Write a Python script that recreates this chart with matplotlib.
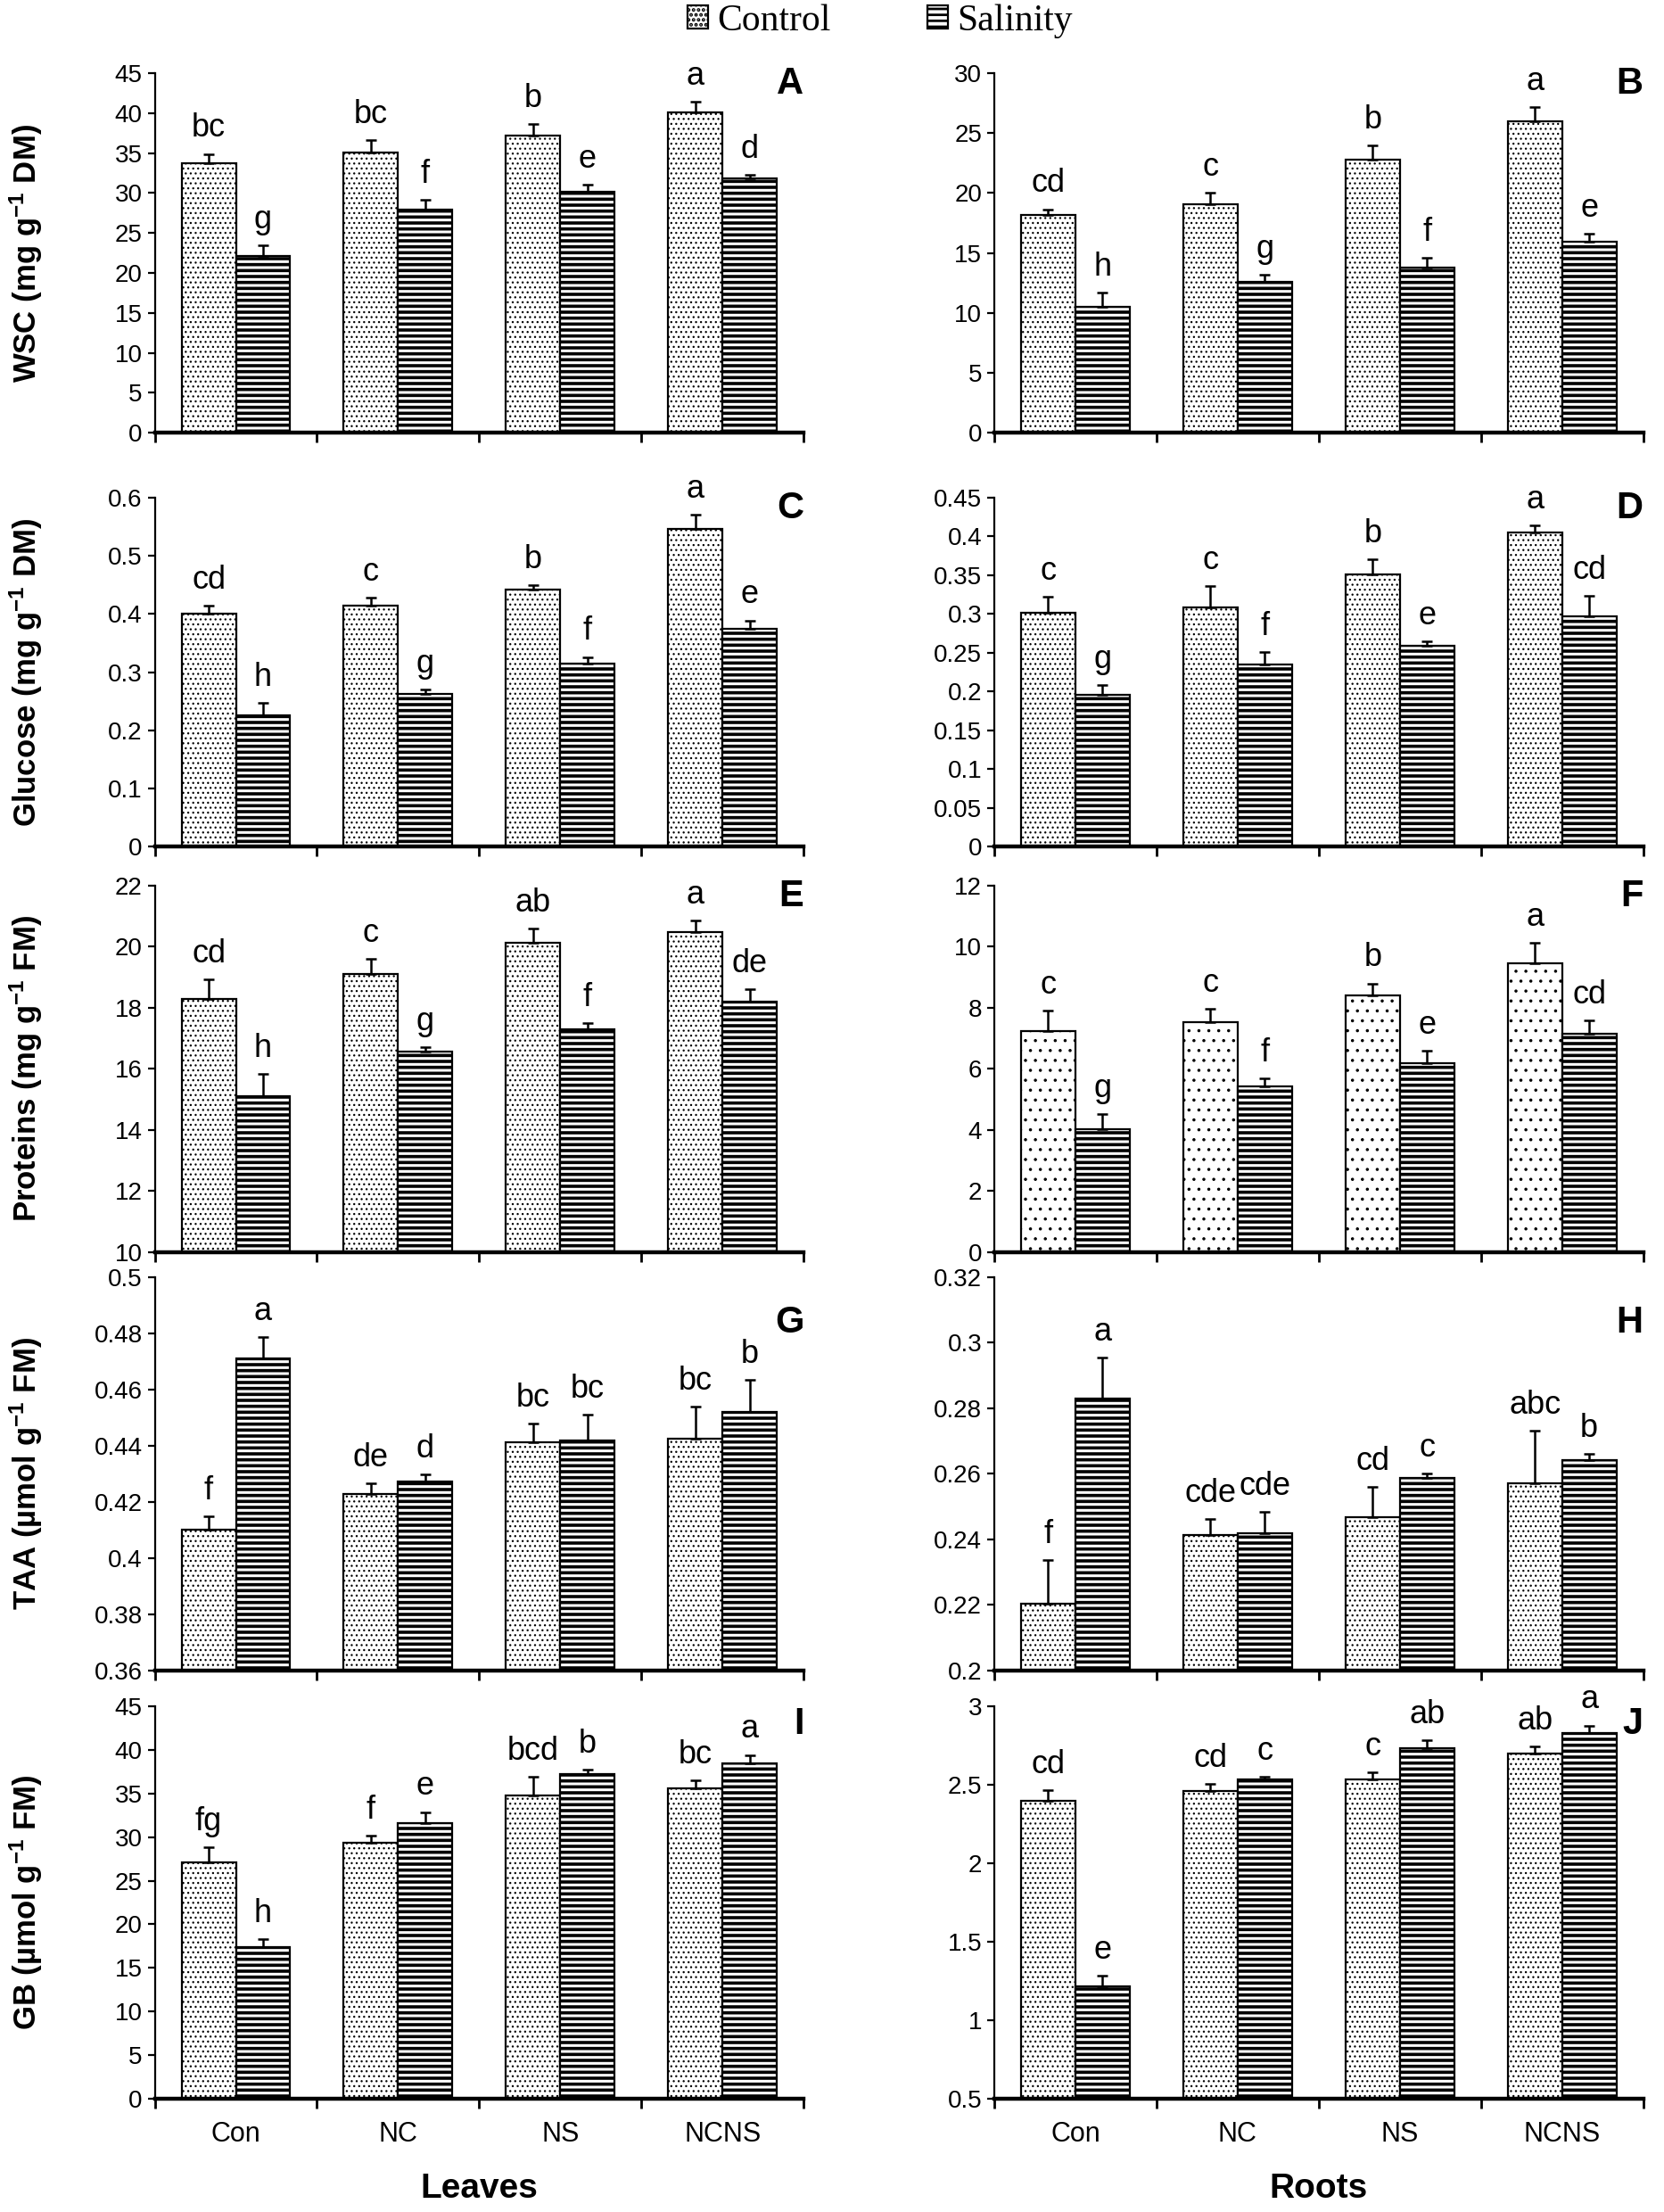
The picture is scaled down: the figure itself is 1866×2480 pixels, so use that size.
import matplotlib
matplotlib.use("Agg")
import matplotlib.pyplot as plt
from matplotlib.ticker import FuncFormatter, MultipleLocator

plt.rcParams["font.family"] = ["Liberation Sans", "DejaVu Sans"]
plt.rcParams["mathtext.default"] = "regular"

NARROW = ["Liberation Sans Narrow", "Liberation Sans", "DejaVu Sans"]

TREATMENTS = ["Con", "NC", "NS", "NCNS"]
SERIES = ["Control", "Salinity"]

# A: WSC, leaves
wsc_leaf_ctrl = [33.7, 35.1, 37.2, 40.1]
wsc_leaf_ctrl_se = [1.2, 1.5, 1.4, 1.3]
wsc_leaf_sal = [22.1, 27.9, 30.2, 31.8]
wsc_leaf_sal_se = [1.4, 1.25, 0.8, 0.5]
wsc_leaf_letters = ["bc", "g", "bc", "f", "b", "e", "a", "d"]

# B: WSC, roots
wsc_root_ctrl = [18.15, 19.1, 22.8, 25.95]
wsc_root_ctrl_se = [0.5, 0.9, 1.2, 1.2]
wsc_root_sal = [10.5, 12.55, 13.8, 15.95]
wsc_root_sal_se = [1.2, 0.65, 0.8, 0.65]
wsc_root_letters = ["cd", "h", "c", "g", "b", "f", "a", "e"]

# C: glucose, leaves
glc_leaf_ctrl = [0.400, 0.414, 0.442, 0.546]
glc_leaf_ctrl_se = [0.014, 0.014, 0.007, 0.025]
glc_leaf_sal = [0.225, 0.262, 0.315, 0.375]
glc_leaf_sal_se = [0.022, 0.008, 0.011, 0.014]
glc_leaf_letters = ["cd", "h", "c", "g", "b", "f", "a", "e"]

# D: glucose, roots
glc_root_ctrl = [0.301, 0.308, 0.351, 0.405]
glc_root_ctrl_se = [0.021, 0.028, 0.020, 0.009]
glc_root_sal = [0.196, 0.235, 0.259, 0.297]
glc_root_sal_se = [0.012, 0.016, 0.006, 0.026]
glc_root_letters = ["c", "g", "c", "f", "b", "e", "a", "cd"]

# E: proteins, leaves
prot_leaf_ctrl = [18.28, 19.12, 20.12, 20.49]
prot_leaf_ctrl_se = [0.64, 0.48, 0.48, 0.37]
prot_leaf_sal = [15.10, 16.56, 17.29, 18.19]
prot_leaf_sal_se = [0.73, 0.14, 0.2, 0.41]
prot_leaf_letters = ["cd", "h", "c", "g", "ab", "f", "a", "de"]

# F: proteins, roots
prot_root_ctrl = [7.25, 7.53, 8.42, 9.47]
prot_root_ctrl_se = [0.67, 0.44, 0.38, 0.66]
prot_root_sal = [4.03, 5.42, 6.20, 7.14]
prot_root_sal_se = [0.5, 0.27, 0.39, 0.44]
prot_root_letters = ["c", "g", "c", "f", "b", "e", "a", "cd"]

# G: TAA, leaves
taa_leaf_ctrl = [0.410, 0.4227, 0.4412, 0.4424]
taa_leaf_ctrl_se = [0.005, 0.004, 0.0067, 0.0114]
taa_leaf_sal = [0.471, 0.4272, 0.4418, 0.452]
taa_leaf_sal_se = [0.0077, 0.0027, 0.0094, 0.0114]
taa_leaf_letters = ["f", "a", "de", "d", "bc", "bc", "bc", "b"]

# H: TAA, roots
taa_root_ctrl = [0.2203, 0.2414, 0.2469, 0.2571]
taa_root_ctrl_se = [0.0135, 0.0048, 0.0092, 0.016]
taa_root_sal = [0.283, 0.242, 0.2588, 0.2641]
taa_root_sal_se = [0.0124, 0.0064, 0.0014, 0.002]
taa_root_letters = ["f", "a", "cde", "cde", "cd", "c", "abc", "b"]

# I: GB, leaves
gb_leaf_ctrl = [27.1, 29.4, 34.8, 35.6]
gb_leaf_ctrl_se = [1.7, 0.78, 2.14, 0.93]
gb_leaf_sal = [17.35, 31.6, 37.2, 38.5]
gb_leaf_sal_se = [0.93, 1.28, 0.5, 0.93]
gb_leaf_letters = ["fg", "h", "f", "e", "bcd", "b", "bc", "a"]

# J: GB, roots
gb_root_ctrl = [2.40, 2.458, 2.533, 2.702]
gb_root_ctrl_se = [0.067, 0.049, 0.045, 0.042]
gb_root_sal = [1.216, 2.536, 2.733, 2.831]
gb_root_sal_se = [0.068, 0.013, 0.051, 0.047]
gb_root_letters = ["cd", "e", "cd", "c", "c", "ab", "ab", "a"]

YLABELS = ["WSC (mg g$^{-1}$ DM)", "Glucose (mg g$^{-1}$ DM)",
           "Proteins (mg g$^{-1}$ FM)", "TAA (µmol g$^{-1}$ FM)",
           "GB (µmol g$^{-1}$ FM)"]

panels = [
    ("A", wsc_leaf_ctrl, wsc_leaf_ctrl_se, wsc_leaf_sal, wsc_leaf_sal_se, wsc_leaf_letters, (0, 45), 5),
    ("B", wsc_root_ctrl, wsc_root_ctrl_se, wsc_root_sal, wsc_root_sal_se, wsc_root_letters, (0, 30), 5),
    ("C", glc_leaf_ctrl, glc_leaf_ctrl_se, glc_leaf_sal, glc_leaf_sal_se, glc_leaf_letters, (0, 0.6), 0.1),
    ("D", glc_root_ctrl, glc_root_ctrl_se, glc_root_sal, glc_root_sal_se, glc_root_letters, (0, 0.45), 0.05),
    ("E", prot_leaf_ctrl, prot_leaf_ctrl_se, prot_leaf_sal, prot_leaf_sal_se, prot_leaf_letters, (10, 22), 2),
    ("F", prot_root_ctrl, prot_root_ctrl_se, prot_root_sal, prot_root_sal_se, prot_root_letters, (0, 12), 2),
    ("G", taa_leaf_ctrl, taa_leaf_ctrl_se, taa_leaf_sal, taa_leaf_sal_se, taa_leaf_letters, (0.36, 0.5), 0.02),
    ("H", taa_root_ctrl, taa_root_ctrl_se, taa_root_sal, taa_root_sal_se, taa_root_letters, (0.2, 0.32), 0.02),
    ("I", gb_leaf_ctrl, gb_leaf_ctrl_se, gb_leaf_sal, gb_leaf_sal_se, gb_leaf_letters, (0, 45), 5),
    ("J", gb_root_ctrl, gb_root_ctrl_se, gb_root_sal, gb_root_sal_se, gb_root_letters, (0.5, 3), 0.5),
]

# layout (figure fractions): left/right column x, per-row bottom & height
COL_X = [0.093, 0.5975]
COL_W = 0.39
ROW_B = [0.8044, 0.6173, 0.4339, 0.2448, 0.0512]
ROW_H = [0.1625, 0.1577, 0.1657, 0.1778, 0.1774]
LETTER_Y = [1.02, 1.02, 1.02, 0.93, 1.0]

BAR_W = 0.335
DOTS = "......"
STRIPES = "-----"

fig = plt.figure(figsize=(9.33, 12.4), dpi=200)

handles = None
for k, (tag, c_val, c_se, s_val, s_se, letters, ylim, step) in enumerate(panels):
    row, col = divmod(k, 2)
    ax = fig.add_axes([COL_X[col], ROW_B[row], COL_W, ROW_H[row]])
    xs = [i + 0.5 for i in range(len(TREATMENTS))]
    xc = [x - BAR_W / 2 for x in xs]
    xsal = [x + BAR_W / 2 for x in xs]
    # panel F uses a sparser stipple in the original
    dot_hatch = "..." if tag == "F" else DOTS
    b1 = ax.bar(xc, [v - ylim[0] for v in c_val], BAR_W, bottom=ylim[0],
                color="white", edgecolor="black", linewidth=0.8,
                hatch=dot_hatch, label=SERIES[0], zorder=2)
    b2 = ax.bar(xsal, [v - ylim[0] for v in s_val], BAR_W, bottom=ylim[0],
                color="white", edgecolor="black", linewidth=0.8,
                hatch=STRIPES, label=SERIES[1], zorder=2)
    for p in b1:
        if hasattr(p, "set_hatch_linewidth"):
            p.set_hatch_linewidth(0.45)
    for p in b2:
        if hasattr(p, "set_hatch_linewidth"):
            p.set_hatch_linewidth(1.3)
    if handles is None:
        handles = [b1, b2]
    ax.errorbar(xc, c_val, yerr=[[0] * 4, c_se], fmt="none", ecolor="black",
                elinewidth=0.9, capsize=2.0, capthick=0.9, zorder=3)
    ax.errorbar(xsal, s_val, yerr=[[0] * 4, s_se], fmt="none", ecolor="black",
                elinewidth=0.9, capsize=2.0, capthick=0.9, zorder=3)

    # significance letters above each error bar
    tops = []
    for i in range(4):
        tops.append((xc[i], c_val[i] + c_se[i]))
        tops.append((xsal[i], s_val[i] + s_se[i]))
    for (x, y), lab in zip(tops, letters):
        ax.annotate(lab, (x, y), xytext=(0, 4), textcoords="offset points",
                    ha="center", va="bottom", fontsize=13)

    ax.text(1.0, LETTER_Y[row], tag, transform=ax.transAxes, ha="right",
            va="top", fontsize=15, fontweight="bold")

    ax.set_xlim(0, 4)
    ax.set_ylim(*ylim)
    ax.yaxis.set_major_locator(MultipleLocator(step))
    ax.yaxis.set_major_formatter(FuncFormatter(lambda v, pos: f"{round(v, 4):g}"))
    ax.set_xticks([0, 1, 2, 3, 4])
    ax.set_xticklabels([])
    for s in ("top", "right"):
        ax.spines[s].set_visible(False)
    ax.spines["left"].set_linewidth(0.8)
    ax.spines["bottom"].set_linewidth(1.6)
    ax.tick_params(axis="y", direction="out", length=3, width=0.8, pad=2)
    ax.tick_params(axis="x", which="major", direction="out", length=4, width=1.0)
    for t in ax.get_yticklabels():
        t.set_family(NARROW)
        t.set_fontsize(10)

    if col == 0:
        ax.set_ylabel(YLABELS[row], fontsize=12.5, fontweight="bold")
        ax.yaxis.set_label_coords(-0.17, 0.5)

    if row == 4:
        ax.set_xticks(xs, TREATMENTS, minor=True)
        ax.tick_params(axis="x", which="minor", length=0, pad=9)
        for t in ax.get_xticklabels(minor=True):
            t.set_family(NARROW)
            t.set_fontsize(11)
        ax.set_xlabel("Leaves" if col == 0 else "Roots", fontsize=14,
                      fontweight="bold", labelpad=10)

fig.legend(handles, SERIES, loc="center", bbox_to_anchor=(0.529, 0.9905),
           ncol=2, frameon=False, prop={"family": "Liberation Serif", "size": 15},
           handlelength=0.55, handleheight=0.6, handletextpad=0.25,
           columnspacing=2.6)

fig.savefig("out.png", dpi=200)
